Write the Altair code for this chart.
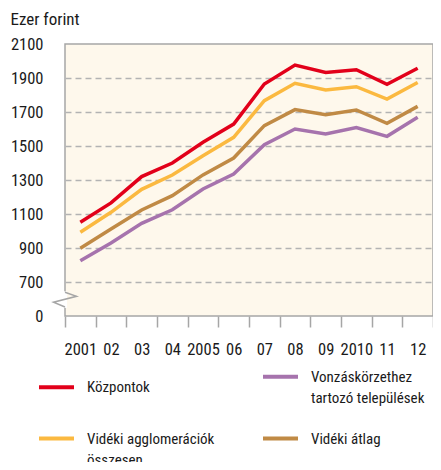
import altair as alt
import pandas as pd

years = [str(y) for y in range(2001, 2013)]
year_labels = ["2001", "02", "03", "04", "2005", "06", "07", "08", "09", "2010", "11", "12"]

# legend order (filled column by column): Központok, Vidéki agglomerációk | Vonzáskörzethez, Vidéki átlag
series_names = [
    "Központok",
    "Vidéki agglomerációk|összesen",
    "Vonzáskörzethez|tartozó települések",
    "Vidéki átlag",
]
series_colors = ["#e2001a", "#fbb940", "#a673ad", "#c08a45"]

kozpontok = [1051, 1165, 1320, 1400, 1522, 1629, 1865, 1976, 1933, 1949, 1863, 1957]
agglomeracio = [993, 1110, 1245, 1329, 1443, 1551, 1767, 1869, 1829, 1849, 1776, 1874]
vonzaskorzet = [825, 930, 1045, 1125, 1247, 1335, 1508, 1600, 1571, 1608, 1557, 1669]
videki_atlag = [898, 1012, 1124, 1208, 1330, 1429, 1620, 1714, 1684, 1712, 1633, 1733]

y_ticks = [500, 700, 900, 1100, 1300, 1500, 1700, 1900, 2100]

rows = []
for name, vals in zip(series_names, [kozpontok, agglomeracio, vonzaskorzet, videki_atlag]):
    for yr, v in zip(years, vals):
        rows.append({"year": yr, "value": v, "series": name})
df = pd.DataFrame(rows)

label_map = "{" + ",".join(f"'{y}':'{l}'" for y, l in zip(years, year_labels)) + "}"

FONT = "Roboto Condensed"

lines = alt.Chart(df).mark_line(strokeWidth=3.5).encode(
    x=alt.X(
        "year:O",
        bandPosition=0.5,
        scale=alt.Scale(type="band", paddingInner=0, paddingOuter=0),
        axis=alt.Axis(
            title=None,
            domain=False,
            tickBand="extent",
            tickSize=11,
            tickWidth=1.5,
            tickColor="#a6a6a6",
            labelAngle=0,
            labelPadding=14,
            labelOverlap=False,
            labelExpr=f"{label_map}[datum.value]",
        ),
    ),
    y=alt.Y(
        "value:Q",
        scale=alt.Scale(domain=[500, 2100], nice=False, zero=False),
        axis=alt.Axis(
            title="Ezer forint",
            titleAngle=0,
            titleAlign="left",
            titleBaseline="middle",
            titleX=-55,
            titleY=-25,
            values=y_ticks,
            tickCount=20,
            domain=False,
            ticks=False,
            labelPadding=22,
            labelOverlap=False,
            labelExpr="datum.value == 500 ? '0' : datum.value",
            grid=True,
            gridDash=[6, 4],
            gridColor="#b3b3b3",
            gridWidth=1.5,
            gridOpacity={"condition": {"test": "datum.value == 500 || datum.value == 2100", "value": 0}, "value": 1},
        ),
    ),
    color=alt.Color(
        "series:N",
        scale=alt.Scale(domain=series_names, range=series_colors),
        legend=alt.Legend(
            title=None,
            orient="none",
            legendX=-28,
            legendY=313,
            columns=2,
            columnPadding=40,
            rowPadding=13,
            padding=0,
            symbolType="stroke",
            symbolSize=1225,
            symbolStrokeWidth=4,
            labelOffset=11,
            labelLimit=400,
            labelBaseline="middle",
            labelExpr="split(datum.label, '|')",
        ),
    ),
)

# axis break decoration on the left edge
brk = pd.DataFrame({
    "px": [0, 11.5, -11.5, 0],
    "val": [640, 616, 581, 553],
    "i": [0, 1, 2, 3],
})
cover = alt.Chart(pd.DataFrame({"px": [0, 0], "val": [645, 548], "i": [0, 1]})).mark_line(
    color="white", strokeWidth=4
).encode(
    x=alt.X("px:Q", scale=None, axis=None),
    y=alt.Y("val:Q"),
    order="i:Q",
)
zig = alt.Chart(brk).mark_line(color="#a6a6a6", strokeWidth=1.5).encode(
    x=alt.X("px:Q", scale=None, axis=None),
    y=alt.Y("val:Q"),
    order="i:Q",
)

chart = alt.layer(lines, cover, zig).properties(
    width=368, height=272,
    autosize=alt.AutoSizeParams(type="none"),
    padding={"left": 57, "top": 36, "right": 0, "bottom": 146},
).configure(
    style={"guide-label": {"lineHeight": 21}},
).configure_view(
    fill="#fef8ec", stroke="#a6a6a6", strokeWidth=1.5
).configure_axis(
    labelFont=FONT, labelFontSize=16.5, labelColor="#1a1a1a",
    titleFont=FONT, titleFontSize=17, titleColor="#1a1a1a", titleFontWeight="normal",
).configure_legend(
    labelFont=FONT, labelFontSize=15, labelColor="#1a1a1a",
)

chart.save("out.html", embed_options={"renderer": "svg", "actions": False})
